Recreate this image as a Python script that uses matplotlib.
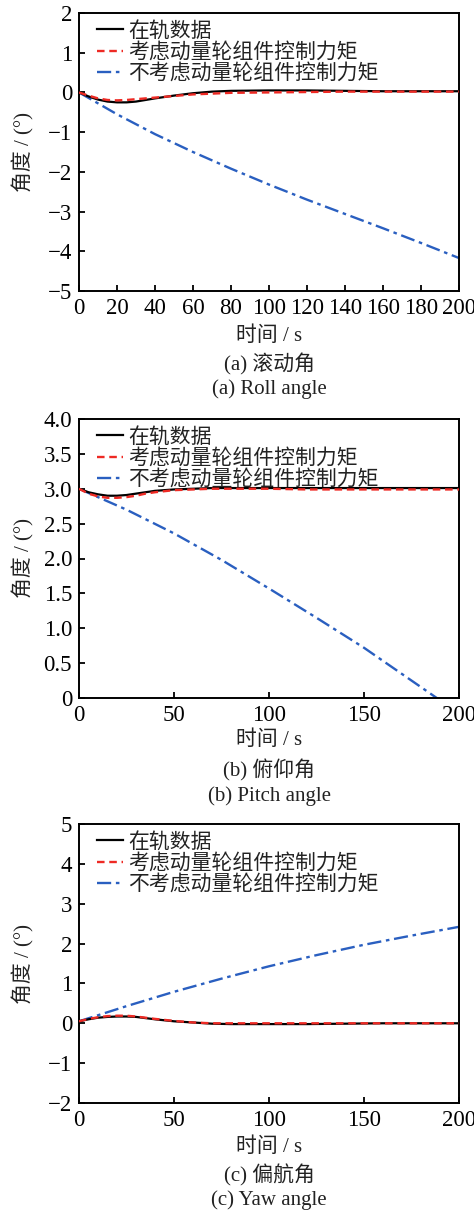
import matplotlib
matplotlib.use("Agg")
import matplotlib.pyplot as plt

plt.rcParams['font.family'] = ['Liberation Serif', 'Noto Sans CJK SC']
plt.rcParams['axes.unicode_minus'] = True

# ---- data ----
t_fine = [0, 5, 10, 15, 20, 25, 30, 35, 40, 50, 60, 70, 80, 100, 120, 140, 160, 180, 200]
t_blue = [0, 20, 40, 60, 80, 100, 120, 140, 160, 180, 200]
t_blue_p = [0, 25, 50, 75, 100, 125, 150, 175, 200]

roll_onorbit = [0, -0.10, -0.18, -0.23, -0.25, -0.25, -0.23, -0.19, -0.15, -0.08, -0.02, 0.02, 0.04, 0.05, 0.05, 0.04, 0.03, 0.03, 0.03]
roll_with = [0, -0.08, -0.15, -0.19, -0.20, -0.19, -0.17, -0.15, -0.13, -0.09, -0.05, -0.03, -0.01, 0.0, 0.01, 0.02, 0.02, 0.02, 0.02]
roll_without = [0, -0.55, -1.05, -1.50, -1.92, -2.32, -2.70, -3.06, -3.42, -3.79, -4.17]

pitch_onorbit = [3.0, 2.95, 2.92, 2.90, 2.90, 2.91, 2.93, 2.95, 2.97, 2.99, 3.0, 3.01, 3.01, 3.01, 3.01, 3.01, 3.01, 3.01, 3.01]
pitch_with = [3.0, 2.93, 2.89, 2.87, 2.87, 2.88, 2.90, 2.93, 2.95, 2.98, 2.99, 3.0, 3.0, 3.0, 2.99, 2.99, 2.99, 2.99, 2.99]
pitch_without = [3.0, 2.70, 2.36, 1.98, 1.57, 1.15, 0.72, 0.25, -0.22]

yaw_onorbit = [0.05, 0.10, 0.14, 0.16, 0.17, 0.17, 0.16, 0.13, 0.10, 0.05, 0.02, -0.01, -0.02, -0.02, -0.02, -0.01, 0.0, 0.0, 0.0]
yaw_with = [0.05, 0.11, 0.15, 0.18, 0.19, 0.19, 0.17, 0.14, 0.11, 0.06, 0.02, 0.0, 0.0, 0.0, 0.0, 0.0, 0.0, 0.0, 0.0]
yaw_without = [0.05, 0.43, 0.79, 1.12, 1.43, 1.71, 1.97, 2.20, 2.42]

labels = ['在轨数据', '考虑动量轮组件控制力矩', '不考虑动量轮组件控制力矩']
captions_cn = ['(a) 滚动角', '(b) 俯仰角', '(c) 偏航角']
captions_en = ['(a) Roll angle', '(b) Pitch angle', '(c) Yaw angle']

panels = [
    dict(black=roll_onorbit, red=roll_with, blue=roll_without, tb=t_blue,
         ylim=(-5, 2), yticks=[-5, -4, -3, -2, -1, 0, 1, 2], ytl=None,
         xticks=[0, 20, 40, 60, 80, 100, 120, 140, 160, 180, 200]),
    dict(black=pitch_onorbit, red=pitch_with, blue=pitch_without, tb=t_blue_p,
         ylim=(0, 4), yticks=[0, 0.5, 1.0, 1.5, 2.0, 2.5, 3.0, 3.5, 4.0],
         ytl=['0', '0.5', '1.0', '1.5', '2.0', '2.5', '3.0', '3.5', '4.0'],
         xticks=[0, 50, 100, 150, 200]),
    dict(black=yaw_onorbit, red=yaw_with, blue=yaw_without, tb=t_blue_p,
         ylim=(-2, 5), yticks=[-2, -1, 0, 1, 2, 3, 4, 5], ytl=None,
         xticks=[0, 50, 100, 150, 200]),
]

W, H = 474, 1213
fig = plt.figure(figsize=(W / 100, H / 100), dpi=100)

boxes = [(13, 291), (419, 698), (824, 1103)]
text_y = [(336, 364, 389), (740, 770, 796), (1147, 1175, 1200)]
left_px, right_px = 79, 459
fs = 15
fs_tick = 16.5

for i, p in enumerate(panels):
    top, bot = boxes[i]
    ax = fig.add_axes([left_px / W, 1 - bot / H, (right_px - left_px) / W, (bot - top) / H])
    ax.plot(t_fine, p['black'], color='black', lw=1.6, label=labels[0], zorder=3)
    ax.plot(t_fine, p['red'], color='#ee2a24', lw=1.7, ls=(0, (3.2, 2)), label=labels[1], zorder=4)
    ax.plot(p['tb'], p['blue'], color='#2a5fc0', lw=1.7, ls=(0, (6, 2, 1.5, 2)), label=labels[2], zorder=2)
    ax.set_xlim(0, 200)
    ax.set_ylim(*p['ylim'])
    ax.set_xticks(p['xticks'])
    ax.set_yticks(p['yticks'])
    if p['ytl'] is not None:
        ax.set_yticklabels(p['ytl'])
    ax.tick_params(direction='in', length=4, width=1.3, labelsize=fs_tick, top=False, right=False, pad=5)
    for s in ax.spines.values():
        s.set_linewidth(1.4)
    ax.set_ylabel('角度 / (°)', fontsize=fs, color='#222222')
    ax.yaxis.set_label_coords(-(79 - 34) / (right_px - left_px), 0.5)
    ax.legend(loc='upper left', frameon=False, fontsize=fs, handlelength=1.25,
              handletextpad=0.25, labelspacing=0.07, borderaxespad=0.2,
              bbox_to_anchor=(0.015, 1.014), labelcolor='#222222')
    cx = (left_px + right_px) / 2 / W
    fig.text(cx, 1 - text_y[i][0] / H, '时间 / s', ha='center', va='center', fontsize=fs, color='#222222')
    fig.text(cx, 1 - text_y[i][1] / H, captions_cn[i], ha='center', va='center', fontsize=fs, color='#222222')
    fig.text(cx, 1 - text_y[i][2] / H, captions_en[i], ha='center', va='center', fontsize=fs, color='#222222')

fig.savefig('out.png', dpi=100)
